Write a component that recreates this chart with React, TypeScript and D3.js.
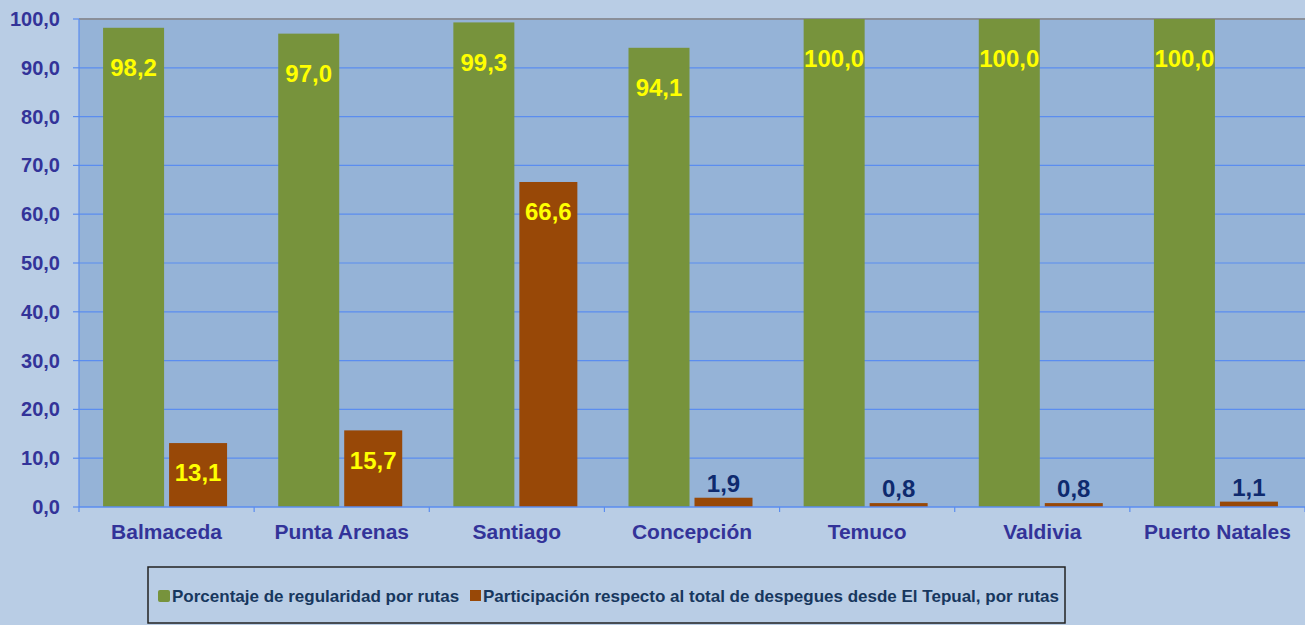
import React from "react";
import * as d3 from "d3";

const categories = ["Balmaceda", "Punta Arenas", "Santiago", "Concepción", "Temuco", "Valdivia", "Puerto Natales"];
const regularidad = [98.2, 97.0, 99.3, 94.1, 100.0, 100.0, 100.0];
const participacion = [13.1, 15.7, 66.6, 1.9, 0.8, 0.8, 1.1];
const yTicks = [0, 10, 20, 30, 40, 50, 60, 70, 80, 90, 100];
const seriesNames = [
  "Porcentaje de regularidad por rutas",
  "Participación respecto al total de despegues desde El Tepual, por rutas",
];

const W = 1305;
const H = 625;
const margin = { top: 19, right: 0, bottom: 118, left: 79 };
const green = "#77933C";
const orange = "#984807";
const fmt = (v: number) => v.toFixed(1).replace(".", ",");

export default function App() {
  const w = W - margin.left - margin.right;
  const h = H - margin.top - margin.bottom;

  const x = d3.scaleBand().domain(categories).range([0, w]);
  const y = d3.scaleLinear().domain([0, 100]).range([h, 0]);
  const bw = x.bandwidth();
  const barW = 61;
  const gap = 5;

  return (
    <svg
      width={W}
      height={H}
      style={{ position: "absolute", left: 0, top: 0, fontFamily: "'Liberation Sans', Arial, sans-serif" }}
    >
      <rect width={W} height={H} fill="#B9CDE5" />
      <g transform={`translate(${margin.left},${margin.top})`}>
        <rect width={w} height={h} fill="#95B3D7" />
        <line x1={0} x2={w} y1={0} y2={0} stroke="#8A8F99" strokeWidth={2} />
        {yTicks.map((t) => (
          <g key={t} transform={`translate(0,${y(t)})`}>
            {t > 0 && t < 100 && <line x1={0} x2={w} stroke="#5B8DEF" strokeWidth={1.2} />}
            <line x1={-6} x2={0} stroke="#5B8DEF" strokeWidth={1.2} />
            <text
              x={-19}
              dy="0.35em"
              textAnchor="end"
              fontSize={20}
              fontWeight="bold"
              fill="#333399"
            >
              {fmt(t)}
            </text>
          </g>
        ))}
        <line x1={0} x2={0} y1={0} y2={h + 5} stroke="#5B8DEF" strokeWidth={1.2} />

        {categories.map((c, i) => {
          const cx = (x(c) as number) + bw / 2;
          const gx = cx - gap / 2 - barW;
          const ox = cx + gap / 2;
          const gv = regularidad[i];
          const ov = participacion[i];
          const small = ov < 5;
          return (
            <g key={c}>
              <rect x={gx} y={y(gv)} width={barW} height={h - y(gv)} fill={green} />
              <rect x={ox} y={y(ov)} width={barW - 3} height={h - y(ov)} fill={orange} />
              <text
                x={gx + barW / 2}
                y={y(gv) + 40}
                dy="0.35em"
                textAnchor="middle"
                fontSize={24}
                fontWeight="bold"
                fill="#FFFF00"
              >
                {fmt(gv)}
              </text>
              <text
                x={ox + (barW - 3) / 2}
                y={small ? y(ov) - 14 : y(ov) + 30}
                dy="0.35em"
                textAnchor="middle"
                fontSize={24}
                fontWeight="bold"
                fill={small ? "#0E2A6E" : "#FFFF00"}
              >
                {fmt(ov)}
              </text>
              <text
                x={cx}
                y={h + 25}
                dy="0.35em"
                textAnchor="middle"
                fontSize={21}
                fontWeight="bold"
                fill="#333399"
              >
                {c}
              </text>
            </g>
          );
        })}
        <line x1={0} x2={w} y1={h} y2={h} stroke="#5B8DEF" strokeWidth={1.5} />
        {categories.map((c) => (
          <line
            key={c}
            x1={(x(c) as number) + bw}
            x2={(x(c) as number) + bw}
            y1={h}
            y2={h + 5}
            stroke="#5B8DEF"
            strokeWidth={1.2}
          />
        ))}
      </g>

      <g transform="translate(148,567)">
        <rect x={0} y={0} width={917} height={56} fill="#B9CDE5" stroke="#222" strokeWidth={1.5} />
        <rect x={10} y={23} width={12} height={12} fill={green} rx={2} />
        <text x={24} y={29} dy="0.35em" fontSize={17} fontWeight="bold" fill="#17375E">
          {seriesNames[0]}
        </text>
        <rect x={322} y={23} width={11} height={11} fill={orange} />
        <text x={335} y={29} dy="0.35em" fontSize={17} fontWeight="bold" fill="#17375E">
          {seriesNames[1]}
        </text>
      </g>
    </svg>
  );
}
